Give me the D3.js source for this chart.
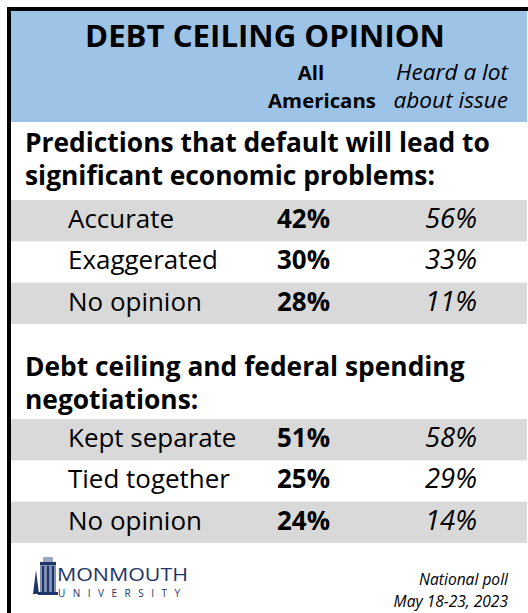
<!DOCTYPE html>
<html>
<head>
<meta charset="utf-8">
<script src="https://cdn.jsdelivr.net/npm/d3@7"></script>
<style>
  body { margin: 0; background: #fff; }
  svg text { font-family: "Open Sans", Lato, sans-serif; fill: #000; }
</style>
</head>
<body>
<div id="chart"></div>
<script>
const title = 'DEBT CEILING OPINION'
const columnHeads = [['All', 'Americans'], ['Heard a lot', 'about issue']]
const questions = [
  ['Predictions that default will lead to', 'significant economic problems:'],
  ['Debt ceiling and federal spending', 'negotiations:']
]
const responses1 = ['Accurate', 'Exaggerated', 'No opinion']
const allAmericans1 = [42, 30, 28]
const heardALot1 = [56, 33, 11]
const responses2 = ['Kept separate', 'Tied together', 'No opinion']
const allAmericans2 = [51, 25, 24]
const heardALot2 = [58, 29, 14]
const footer = ['National poll', 'May 18-23, 2023']

const width = 528
const height = 613

const svg = d3.select('#chart').append('svg')
  .attr('width', width)
  .attr('height', height)

// pick a font size so that a sample string spans the width seen in the original
function fitSize (str, weight, style, target) {
  const t = svg.append('text').attr('font-size', 100)
    .attr('font-weight', weight).attr('font-style', style).text(str)
  const w = t.node().getComputedTextLength()
  t.remove()
  return 100 * target / w
}

const titleSize = fitSize(title, 'bold', 'normal', 360)
const headBold = fitSize('Americans', 'bold', 'normal', 108)
const headItalic = fitSize('Heard a lot', 'normal', 'italic', 112)
const qSize = fitSize(questions[0][0], 'bold', 'normal', 465)
const labelSize = fitSize('Exaggerated', 'normal', 'normal', 150)
const valSize = fitSize('42%', 'bold', 'normal', 53)
const valItalic = fitSize('56%', 'normal', 'italic', 52)
const footSize = fitSize('National poll', 'normal', 'italic', 89)

// frame: top and left black bars
svg.append('rect').attr('x', 7).attr('y', 7).attr('width', width - 7).attr('height', 4).attr('fill', '#000')
svg.append('rect').attr('x', 7).attr('y', 7).attr('width', 4).attr('height', height - 7).attr('fill', '#000')

// header block
svg.append('rect').attr('x', 11).attr('y', 11).attr('width', width - 12).attr('height', 111).attr('fill', '#9DC3E6')
svg.append('text').attr('x', 265).attr('y', 47)
  .attr('text-anchor', 'middle').attr('font-weight', 'bold').attr('font-size', titleSize)
  .text(title)

// columns
const x = d3.scaleOrdinal().domain([0, 1]).range([303.5, 451])
svg.append('text').attr('x', 311).attr('y', 80).attr('text-anchor', 'middle')
  .attr('font-weight', 'bold').attr('font-size', headBold).text(columnHeads[0][0])
svg.append('text').attr('x', 322).attr('y', 108).attr('text-anchor', 'middle')
  .attr('font-weight', 'bold').attr('font-size', headBold).text(columnHeads[0][1])
columnHeads[1].forEach(function (t, j) {
  svg.append('text').attr('x', 508).attr('y', 80 + j * 28)
    .attr('text-anchor', 'end').attr('font-style', 'italic').attr('font-size', headItalic)
    .text(t)
})

const sections = [
  { q: questions[0], labels: responses1, all: allAmericans1, heard: heardALot1, base: 152, rowsTop: 200 },
  { q: questions[1], labels: responses2, all: allAmericans2, heard: heardALot2, base: 376, rowsTop: 419 }
]

sections.forEach(function (s) {
  const g = svg.append('g')
  s.q.forEach(function (t, j) {
    g.append('text').attr('x', 25).attr('y', s.base + j * 33)
      .attr('font-weight', 'bold').attr('font-size', qSize)
      .text(t)
  })
  const y = d3.scaleBand().domain(d3.range(s.labels.length)).range([s.rowsTop, s.rowsTop + 124])
  const rows = g.selectAll('.row').data(s.labels).enter().append('g').attr('class', 'row')
  rows.append('rect')
    .attr('x', 11).attr('width', width - 12)
    .attr('y', function (d, i) { return y(i) })
    .attr('height', y.bandwidth())
    .attr('fill', function (d, i) { return i % 2 === 0 ? '#D9D9D9' : 'none' })
  rows.append('text')
    .attr('x', 68)
    .attr('y', function (d, i) { return y(i) + 28 })
    .attr('font-size', labelSize)
    .text(function (d) { return d })
  rows.append('text')
    .attr('x', x(0)).attr('text-anchor', 'middle')
    .attr('y', function (d, i) { return y(i) + 28 })
    .attr('font-size', valSize).attr('font-weight', 'bold')
    .text(function (d, i) { return s.all[i] + '%' })
  rows.append('text')
    .attr('x', x(1)).attr('text-anchor', 'middle')
    .attr('y', function (d, i) { return y(i) + 28 })
    .attr('font-size', valItalic).attr('font-style', 'italic')
    .text(function (d, i) { return s.heard[i] + '%' })
})

// logo
const navy = '#1F3468'
const logo = svg.append('g').attr('transform', 'translate(33,556)')
logo.append('rect').attr('x', 7).attr('y', 6).attr('width', 16).attr('height', 32).attr('fill', '#7F8FB0')
logo.append('rect').attr('x', 7).attr('y', 6).attr('width', 16).attr('height', 3).attr('fill', navy)
logo.append('rect').attr('x', 10).attr('y', 1).attr('width', 10).attr('height', 5).attr('fill', '#9AA8C4')
logo.append('rect').attr('x', 5).attr('y', 36).attr('width', 20).attr('height', 3).attr('fill', navy)
logo.append('path').attr('d', 'M0,38 L3,14 L6,38 Z').attr('fill', navy)
;[9, 14, 19].forEach(function (wx) {
  logo.append('rect').attr('x', wx).attr('y', 10).attr('width', 2).attr('height', 26).attr('fill', navy)
})
svg.append('text').attr('x', 57).attr('y', 581)
  .attr('font-family', 'Liberation Serif, serif').attr('font-size', 19)
  .style('fill', navy)
  .attr('textLength', 131).attr('lengthAdjust', 'spacingAndGlyphs')
  .text('MONMOUTH')
svg.append('text').attr('x', 58).attr('y', 597)
  .attr('font-family', 'Liberation Serif, serif').attr('font-size', 10)
  .style('fill', navy)
  .attr('textLength', 122)
  .text('UNIVERSITY')

footer.forEach(function (t, j) {
  svg.append('text').attr('x', 508).attr('y', 585 + j * 22)
    .attr('text-anchor', 'end').attr('font-size', footSize).attr('font-style', 'italic')
    .text(t)
})
</script>
</body>
</html>
